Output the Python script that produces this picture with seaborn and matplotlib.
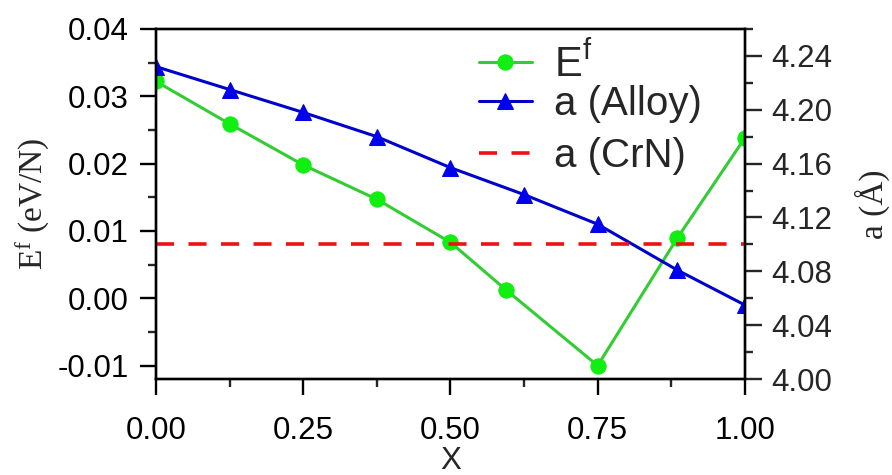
import matplotlib
matplotlib.use("Agg")
import matplotlib.pyplot as plt
import seaborn as sns
import pandas as pd
from matplotlib.ticker import MultipleLocator

# ---- data ----
x_ef = [0.0, 0.125, 0.25, 0.375, 0.5, 0.595, 0.75, 0.885, 1.0]
ef = [0.0322, 0.0259, 0.0198, 0.0147, 0.0083, 0.0012, -0.0100, 0.0089, 0.0238]
x_a = [0.0, 0.125, 0.25, 0.375, 0.5, 0.625, 0.75, 0.885, 1.0]
a_alloy = [4.232, 4.215, 4.198, 4.180, 4.157, 4.137, 4.115, 4.081, 4.055]
a_crn_x = [0.0, 1.0]
a_crn = [4.10, 4.10]
labels = [r"E$^{f}$", "a (Alloy)", "a (CrN)"]
xticks = [0, 0.25, 0.5, 0.75, 1.0]
xticklabels = ["0.00", "0.25", "0.50", "0.75", "1.00"]
yticks_l = [-0.01, 0.0, 0.01, 0.02, 0.03, 0.04]
yticklabels_l = ["-0.01", "0.00", "0.01", "0.02", "0.03", "0.04"]
yticks_r = [4.00, 4.04, 4.08, 4.12, 4.16, 4.20, 4.24]
yticklabels_r = ["4.00", "4.04", "4.08", "4.12", "4.16", "4.20", "4.24"]

sns.set_style("ticks")
plt.rcParams["font.family"] = ["Liberation Sans", "DejaVu Sans"]
plt.rcParams["mathtext.default"] = "regular"

fig = plt.figure(figsize=(8.92, 4.75), dpi=100)
ax = fig.add_axes([0.175, 0.202, 0.66, 0.737])
ax2 = ax.twinx()

df_ef = pd.DataFrame({"x": x_ef, "y": ef})
df_a = pd.DataFrame({"x": x_a, "y": a_alloy})
df_c = pd.DataFrame({"x": a_crn_x, "y": a_crn})

sns.lineplot(data=df_ef, x="x", y="y", ax=ax, color="#33cc33", linewidth=2.2,
             marker="o", markersize=11, markerfacecolor="#11ee11",
             markeredgecolor="#11ee11", label=labels[0], legend=False)
sns.lineplot(data=df_a, x="x", y="y", ax=ax2, color="#0000cc", linewidth=2.2,
             marker="^", markersize=12, markerfacecolor="#0000ee",
             markeredgecolor="#0000ee", label=labels[1], legend=False)
sns.lineplot(data=df_c, x="x", y="y", ax=ax2, color="#ee1111", linewidth=2.6,
             label=labels[2], legend=False)
ax2.lines[-1].set_linestyle((0, (5, 4)))

ax.set_xlim(0, 1)
ax.set_ylim(-0.012, 0.04)
ax2.set_ylim(4.0, 4.26)

ax.xaxis.set_minor_locator(MultipleLocator(0.125))
ax.yaxis.set_minor_locator(MultipleLocator(0.005))
ax2.yaxis.set_minor_locator(MultipleLocator(0.02))
ax.set_xticks(xticks)
ax.set_xticklabels(xticklabels)
ax.set_yticks(yticks_l)
ax.set_yticklabels(yticklabels_l)
ax2.set_yticks(yticks_r)
ax2.set_yticklabels(yticklabels_r)

for a in (ax, ax2):
    for s in a.spines.values():
        s.set_linewidth(1.7)
        s.set_color("black")
ax.tick_params(axis="both", which="major", direction="out", length=11.5, width=1.7,
               labelsize=22.5, colors="black")
ax.tick_params(axis="x", which="major", pad=15)
ax.tick_params(axis="y", which="major", pad=8)
ax.tick_params(axis="both", which="minor", direction="out", length=6, width=1.7)
ax2.tick_params(axis="y", which="major", direction="out", length=12, width=1.7,
                labelsize=22.5, pad=7)
ax2.tick_params(axis="y", which="minor", direction="out", length=6, width=1.7)

ax.set_xlabel("X", fontsize=22.5, labelpad=0)
ax.set_ylabel(r"E$^{f}$ (eV/N)", fontsize=24, family=["Liberation Serif"], labelpad=4)
ax2.set_ylabel("a (Å)", fontsize=24, family=["Liberation Serif"], labelpad=16)

h1 = ax.lines[0]
h2 = ax2.lines[0]
h3 = ax2.lines[1]
leg1 = ax2.legend([h1, h2], labels[:2], loc="upper left", bbox_to_anchor=(0.549, 0.96),
                  frameon=False, fontsize=29, handlelength=1.3, handletextpad=0.55,
                  labelspacing=0.0, borderaxespad=0, borderpad=0)
leg1.get_texts()[0].set_fontsize(30)
ax2.add_artist(leg1)
leg2 = ax2.legend([h3], labels[2:], loc="center left", bbox_to_anchor=(0.549, 0.637),
                  frameon=False, fontsize=29, handlelength=1.3, handletextpad=0.55,
                  borderaxespad=0, borderpad=0)

fig.savefig("out.png", dpi=100)
